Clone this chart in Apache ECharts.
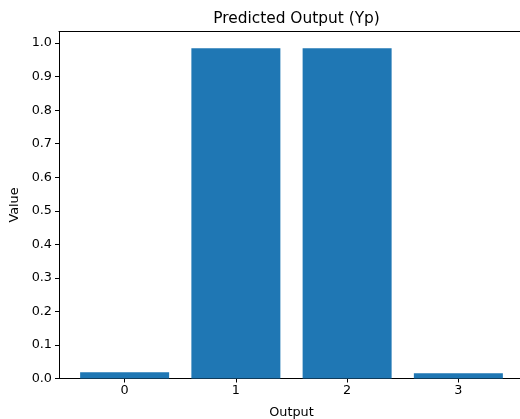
<!DOCTYPE html>
<html>
<head>
<meta charset="utf-8">
<script src="https://cdn.jsdelivr.net/npm/echarts@6/dist/echarts.min.js"></script>
<style>
html,body{margin:0;padding:0;background:#fff;}
#chart{width:520px;height:419px;}
</style>
</head>
<body>
<div id="chart"></div>
<script>
const categories = [0, 1, 2, 3];
const values = [0.019, 0.985, 0.985, 0.016];
const yTicks = [0, 0.1, 0.2, 0.3, 0.4, 0.5, 0.6, 0.7, 0.8, 0.9, 1.0];

const xMin = -0.59, xMax = 3.59;
const gridWidth = 465;
const barPx = 0.8 / (xMax - xMin) * gridWidth;
const font = 'DejaVu Sans';

const chart = echarts.init(document.getElementById('chart'), null, {renderer: 'canvas'});
chart.setOption({
  animation: false,
  backgroundColor: '#ffffff',
  title: {
    text: 'Predicted Output (Yp)',
    left: 59 + gridWidth / 2,
    textAlign: 'center',
    top: 6,
    textStyle: {fontFamily: font, fontSize: 15.4, fontWeight: 'normal', color: '#000'}
  },
  grid: {left: 59, top: 31.5, width: gridWidth, height: 347, containLabel: false, outerBoundsMode: 'none'},
  xAxis: [{
    type: 'value',
    min: xMin,
    max: xMax,
    name: 'Output',
    nameLocation: 'middle',
    nameGap: 28,
    nameTextStyle: {fontFamily: font, fontSize: 12.8, color: '#000'},
    axisLine: {show: true, onZero: false, lineStyle: {color: '#000', width: 1}},
    axisTick: {show: true, length: 4, lineStyle: {color: '#000', width: 1}, customValues: categories},
    axisLabel: {customValues: categories, fontFamily: font, fontSize: 12.8, color: '#000', margin: 6},
    splitLine: {show: false}
  }, {
    type: 'value',
    position: 'top',
    min: xMin,
    max: xMax,
    axisLine: {show: true, onZero: false, lineStyle: {color: '#000', width: 1}},
    axisTick: {show: false},
    axisLabel: {show: false},
    splitLine: {show: false}
  }],
  yAxis: {
    type: 'value',
    min: 0,
    max: 1.0346,
    name: 'Value',
    nameLocation: 'middle',
    nameGap: 36,
    nameTextStyle: {fontFamily: font, fontSize: 12.8, color: '#000'},
    axisLine: {show: true, onZero: false, lineStyle: {color: '#000', width: 1}},
    axisTick: {show: true, length: 4, lineStyle: {color: '#000', width: 1}, customValues: yTicks},
    axisLabel: {customValues: yTicks, formatter: v => v.toFixed(1), fontFamily: font, fontSize: 12.8, color: '#000', margin: 7},
    splitLine: {show: false}
  },
  series: [{
    type: 'bar',
    data: categories.map((c, i) => [c, values[i]]),
    barWidth: barPx,
    itemStyle: {color: '#1f77b4'}
  }]
});
</script>
</body>
</html>
